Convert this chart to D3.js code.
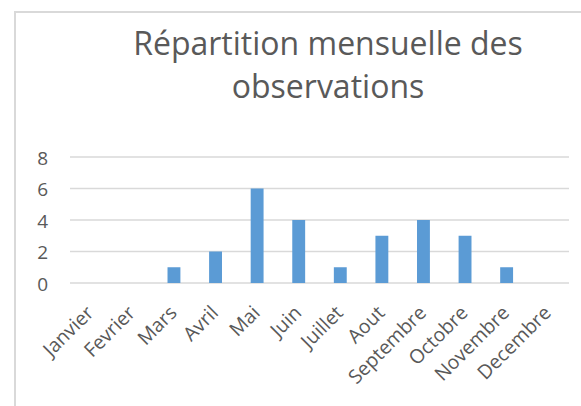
<!DOCTYPE html>
<html>
<head>
<meta charset="utf-8">
<script src="https://cdn.jsdelivr.net/npm/d3@7"></script>
<style>
  body { margin: 0; background: #fff; }
  text { font-family: "Open Sans", sans-serif; fill: #595959; }
</style>
</head>
<body>
<div id="chart"></div>
<script>
const months = ['Janvier', 'Fevrier', 'Mars', 'Avril', 'Mai', 'Juin', 'Juillet', 'Aout', 'Septembre', 'Octobre', 'Novembre', 'Decembre'];
const counts = [0, 0, 1, 2, 6, 4, 1, 3, 4, 3, 1, 0];
const yTicks = [0, 2, 4, 6, 8];
const titleLines = ['Répartition mensuelle des', 'observations'];

const width = 581, height = 406;
const plot = { left: 70, right: 569, top: 157, bottom: 283 };

const svg = d3.select('#chart').append('svg')
    .attr('width', width)
    .attr('height', height);

// chart frame (only left and top edges are visible in the crop)
svg.append('path')
    .attr('d', `M15,${height} L15,12 L${width},12`)
    .attr('fill', 'none')
    .attr('stroke', '#d9d9d9')
    .attr('stroke-width', 2);

svg.append('text')
    .attr('text-anchor', 'middle')
    .attr('font-size', 32)
    .selectAll('tspan')
    .data(titleLines)
    .join('tspan')
    .attr('x', 328)
    .attr('y', (d, i) => 55 + i * 43)
    .text(d => d);

const x = d3.scaleBand()
    .domain(months)
    .range([plot.left, plot.right])
    .paddingInner(0.69)
    .paddingOuter(0.345);

const y = d3.scaleLinear()
    .domain([0, 8])
    .range([plot.bottom, plot.top]);

// gridlines
svg.append('g')
    .selectAll('line')
    .data(yTicks)
    .join('line')
    .attr('x1', plot.left)
    .attr('x2', plot.right)
    .attr('y1', d => y(d))
    .attr('y2', d => y(d))
    .attr('stroke', '#d9d9d9')
    .attr('stroke-width', 1.5);

// y axis labels
const yAxis = svg.append('g')
    .attr('transform', 'translate(48,1)')
    .call(d3.axisLeft(y).tickValues(yTicks).tickSize(0).tickPadding(0));
yAxis.select('.domain').remove();
yAxis.selectAll('text')
    .attr('font-size', 19)
    .attr('font-family', '"Open Sans", sans-serif')
    .attr('fill', '#595959');

// bars
svg.append('g')
    .selectAll('rect')
    .data(counts)
    .join('rect')
    .attr('x', (d, i) => x(months[i]))
    .attr('width', x.bandwidth())
    .attr('y', d => y(d))
    .attr('height', d => y(0) - y(d))
    .attr('fill', '#5b9bd5');

// month labels, rotated
svg.append('g')
    .selectAll('text')
    .data(months)
    .join('text')
    .attr('text-anchor', 'end')
    .attr('font-size', 19.5)
    .attr('transform', d => `translate(${x(d) + x.bandwidth() / 2 + 4},${plot.bottom + 31}) rotate(-45)`)
    .text(d => d);
</script>
</body>
</html>
